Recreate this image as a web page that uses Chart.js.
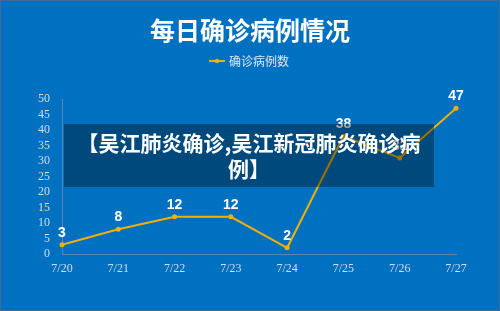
<!DOCTYPE html>
<html>
<head>
<meta charset="utf-8">
<script src="https://cdn.jsdelivr.net/npm/chart.js@4"></script>
<style>
  html, body { margin: 0; padding: 0; background: #0070c0; }
  #wrap { position: relative; width: 498px; height: 309px; border: 1px solid #3f6c93; background: #0070c0; }
  #overlay {
    position: absolute; left: 63px; top: 123px; width: 370px; height: 63px;
    background: rgba(0, 0, 0, 0.35); color: #fff; text-align: center;
    font-family: 'Noto Sans CJK SC', sans-serif; font-weight: bold; font-size: 21px; line-height: 26px;
    padding-top: 5px; box-sizing: border-box; white-space: nowrap;
  }
</style>
</head>
<body>
<div id="wrap">
  <canvas id="dailyChart" width="498" height="309"></canvas>
  <div id="overlay">【吴江肺炎确诊,吴江新冠肺炎确诊病<br>例】</div>
</div>
<script>
const days = ['7/20', '7/21', '7/22', '7/23', '7/24', '7/25', '7/26', '7/27'];
const confirmed = [3, 8, 12, 12, 2, 38, 31, 47];
const yTicks = [0, 5, 10, 15, 20, 25, 30, 35, 40, 45, 50];

const lineColor = '#f2b100';

// legend marker: short line with a dot in the middle
const legendIcon = document.createElement('canvas');
legendIcon.width = 16;
legendIcon.height = 6;
const ic = legendIcon.getContext('2d');
ic.strokeStyle = lineColor;
ic.lineWidth = 2;
ic.beginPath(); ic.moveTo(0, 3); ic.lineTo(16, 3); ic.stroke();
ic.fillStyle = lineColor;
ic.beginPath(); ic.arc(8, 3, 2.2, 0, Math.PI * 2); ic.fill();

// value labels above points
const valueLabels = {
    id: 'valueLabels',
    afterDatasetsDraw(chart) {
        const ctx = chart.ctx;
        const meta = chart.getDatasetMeta(0);
        ctx.save();
        ctx.fillStyle = '#ffffff';
        ctx.font = "bold 14px 'Liberation Sans Narrow', sans-serif";
        ctx.textAlign = 'center';
        ctx.textBaseline = 'bottom';
        meta.data.forEach((pt, i) => {
            ctx.fillText(String(confirmed[i]), pt.x, pt.y - 5);
        });
        ctx.restore();
    }
};

// extra gap under the legend
const legendGap = {
    id: 'legendGap',
    beforeInit(chart) {
        const fit = chart.legend.fit;
        chart.legend.fit = function () {
            fit.call(this);
            this.height += 22;
        };
    }
};

const ctx = document.getElementById('dailyChart').getContext('2d');
new Chart(ctx, {
    type: 'line',
    data: {
        labels: days,
        datasets: [{
            label: '确诊病例数',
            data: confirmed,
            borderColor: lineColor,
            backgroundColor: lineColor,
            borderWidth: 2,
            tension: 0,
            pointRadius: 2.5,
            pointBackgroundColor: lineColor,
            pointBorderWidth: 0
        }]
    },
    options: {
        responsive: false,
        animation: false,
        layout: { padding: { left: 8, right: 8, top: 0, bottom: 26 } },
        plugins: {
            title: {
                display: true,
                text: '每日确诊病例情况',
                color: '#ffffff',
                font: { family: "'Noto Sans CJK SC', sans-serif", size: 25, weight: 'bold' },
                padding: { top: 14, bottom: 0 }
            },
            legend: {
                display: true,
                position: 'top',
                labels: {
                    color: '#dfe8f5',
                    font: { family: "'Noto Sans CJK SC', sans-serif", size: 12 },
                    usePointStyle: true,
                    pointStyle: legendIcon,
                    padding: 10
                }
            },
            tooltip: { enabled: false }
        },
        scales: {
            x: {
                offset: false,
                grid: { display: false, drawTicks: false },
                border: { display: true, color: '#5b86b3', width: 1 },
                ticks: {
                    color: '#d3deec',
                    font: { family: "'Liberation Serif', serif", size: 12 },
                    padding: 8,
                    maxRotation: 0
                },
                afterFit(scale) { scale.height = 30; }
            },
            y: {
                min: 0,
                max: 50,
                grid: { display: false, drawTicks: false },
                border: { display: true, color: '#5b86b3', width: 1 },
                afterBuildTicks(scale) { scale.ticks = yTicks.map(v => ({ value: v })); },
                ticks: {
                    autoSkip: false,
                    color: '#d3deec',
                    font: { family: "'Liberation Serif', serif", size: 12 },
                    padding: 12
                },
                afterFit(scale) { scale.width = 53; }
            },
            yRight: {
                position: 'right',
                display: true,
                grid: { display: false, drawTicks: false },
                border: { display: false },
                ticks: { display: false },
                afterFit(scale) { scale.width = 35; }
            }
        }
    },
    plugins: [valueLabels, legendGap]
});
</script>
</body>
</html>
